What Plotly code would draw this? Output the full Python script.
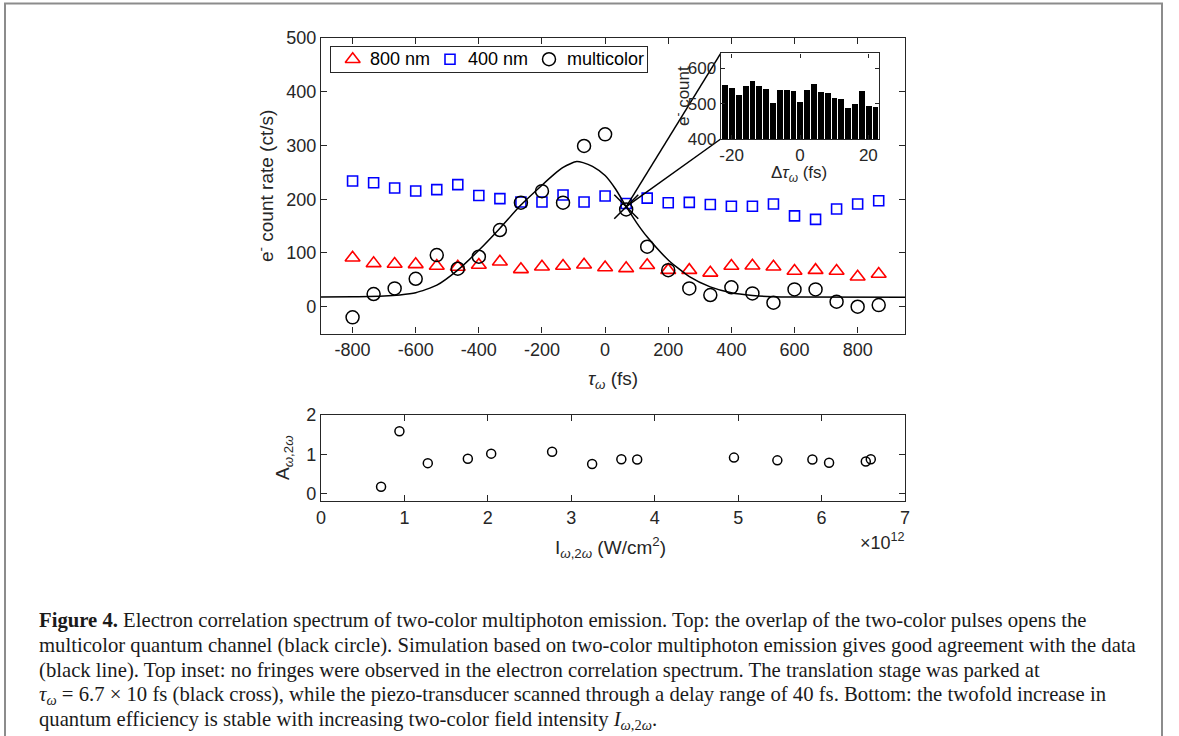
import plotly.graph_objects as go

W, H = 1179, 736

# ---------------- data ----------------
tau = [-800, -733.3, -666.7, -600, -533.3, -466.7, -400, -333.3, -266.7, -200,
       -133.3, -66.7, 0, 66.7, 133.3, 200, 266.7, 333.3, 400, 466.7, 533.3,
       600, 666.7, 733.3, 800, 866.7]
rate_800 = [91, 80.6, 79.4, 78.8, 75.7, 74, 77.5, 83.7, 69.5, 74.4, 75.7, 78, 73,
            71.3, 77, 68, 68, 63, 75.7, 76.3, 74.4, 66.4, 68, 66.4, 55.8, 60.8]
rate_400 = [233.8, 230.7, 220.8, 215.2, 217.7, 227, 207, 201, 194.7, 194.7, 207.8,
            194.7, 205.9, 192, 202, 193.5, 194, 190, 187, 187, 191, 169, 162.5,
            181.7, 191, 197]
rate_multi = [-19.8, 23.6, 34, 52, 96, 70.7, 93, 142.6, 193.5, 215, 193.5, 299,
              320.6, 181, 111.6, 68, 34, 21.7, 36, 24.8, 7.4, 32.2, 32.2, 9.3, 0, 3]

sim_t = [-900, -800, -700, -650, -600, -533, -467, -400, -333, -267, -200, -160,
         -133, -110, -90, -70, -40, 0, 33, 67, 100, 133, 200, 267, 333, 400, 467,
         533, 600, 950]
sim_v = [18, 18.6, 20, 22, 26, 40, 68, 105, 146, 189, 226, 247, 259, 266, 270,
         268, 261, 244, 219, 186, 156, 130, 87, 56, 37, 26, 21, 18.6, 18, 17.5]

cross_t = [67]
cross_v = [186]

inset_dt = [-22, -20, -18, -16, -14, -12, -10, -8, -6, -4, -2, 0, 2, 4, 6, 8, 10,
            12, 14, 16, 18, 20, 22]
inset_counts = [551, 545, 525, 549, 563, 549, 540, 501, 539, 537, 534, 504, 538,
                554, 532, 531, 515, 513, 486, 499, 536, 493, 490]

intensity = [0.72, 0.94, 1.28, 1.76, 2.04, 2.77, 3.25, 3.6, 3.79, 4.95, 5.47,
             5.89, 6.09, 6.53, 6.59]
amp = [0.18, 1.59, 0.78, 0.89, 1.02, 1.07, 0.76, 0.88, 0.87, 0.92, 0.85, 0.87,
       0.79, 0.82, 0.88]

series_names = ['800 nm', '400 nm', 'multicolor']

main_xticks = [-800, -600, -400, -200, 0, 200, 400, 600, 800]
main_yticks = [0, 100, 200, 300, 400, 500]
inset_xticks = [-20, 0, 20]
inset_yticks = [400, 500, 600]
bot_xticks = [0, 1, 2, 3, 4, 5, 6, 7]
bot_yticks = [0, 1, 2]

# ---------------- layout geometry (pixels) ----------------
def dx(a, b):
    return [a / W, b / W]

def dy(top, bottom):
    return [1 - bottom / H, 1 - top / H]

main_xdom = dx(321, 905)
main_ydom = dy(37.9, 333.6)
bot_xdom = dx(321, 905)
bot_ydom = dy(415, 501)
ins_xdom = dx(720.7, 879.3)
ins_ydom = dy(53.3, 139)
leg_xdom = dx(330.7, 646.7)
leg_ydom = dy(46.7, 71.7)

main_xr = [-900, 950]
main_yr = [-50, 500]

def paper_to_main(px, py):
    x = main_xr[0] + (px - main_xdom[0]) / (main_xdom[1] - main_xdom[0]) * (main_xr[1] - main_xr[0])
    y = main_yr[0] + (py - main_ydom[0]) / (main_ydom[1] - main_ydom[0]) * (main_yr[1] - main_yr[0])
    return x, y

c_tl = paper_to_main(ins_xdom[0], ins_ydom[1])
c_bl = paper_to_main(ins_xdom[0], ins_ydom[0])

TXT = '#262626'
FONT = 'Liberation Sans, Arial, sans-serif'

styles = [
    dict(symbol='triangle-up-open', size=13, color='#ff0000', line=dict(width=1.6, color='#ff0000')),
    dict(symbol='square-open', size=10, color='#0000ff', line=dict(width=1.6, color='#0000ff')),
    dict(symbol='circle-open', size=13, color='black', line=dict(width=1.5, color='black')),
]

fig = go.Figure()

for name, vals, st in zip(series_names, [rate_800, rate_400, rate_multi], styles):
    fig.add_trace(go.Scatter(x=tau, y=vals, mode='markers', name=name, marker=st,
                             showlegend=False, xaxis='x', yaxis='y'))

fig.add_trace(go.Scatter(x=sim_t, y=sim_v, mode='lines', showlegend=False,
                         line=dict(color='black', width=1.5, shape='spline', smoothing=0.6),
                         xaxis='x', yaxis='y'))
# connector lines from the cross to the inset corners
fig.add_trace(go.Scatter(x=[cross_t[0], c_tl[0], None, cross_t[0], c_bl[0]],
                         y=[cross_v[0], c_tl[1], None, cross_v[0], c_bl[1]],
                         mode='lines', showlegend=False, cliponaxis=False,
                         line=dict(color='black', width=1.5),
                         xaxis='x', yaxis='y'))
fig.add_trace(go.Scatter(x=cross_t, y=cross_v, mode='markers', showlegend=False,
                         marker=dict(symbol='x-thin', size=24, color='black',
                                     line=dict(width=1.5, color='black')),
                         xaxis='x', yaxis='y'))

fig.add_trace(go.Bar(x=inset_dt, y=inset_counts, width=1.7, showlegend=False,
                     marker=dict(color='black', line=dict(width=0)),
                     xaxis='x3', yaxis='y3'))

fig.add_trace(go.Scatter(x=intensity, y=amp, mode='markers', showlegend=False,
                         marker=dict(symbol='circle-open', size=9, color='black',
                                     line=dict(width=1.5, color='black')),
                         xaxis='x2', yaxis='y2'))

# legend (drawn as a small boxed axis, MATLAB style)
leg_sym_x = [22 / 316, 119.3 / 316, 218.3 / 316]
leg_txt_x = [369, 467, 566]
for sx, st in zip(leg_sym_x, styles):
    fig.add_trace(go.Scatter(x=[sx], y=[0.5], mode='markers', marker=st, showlegend=False,
                             hoverinfo='skip', xaxis='x4', yaxis='y4'))

def axis(dom, rng, ticks, anchor, size=18, tl=6):
    return dict(domain=dom, range=rng, tickvals=ticks, ticktext=[str(t) for t in ticks],
                ticks='inside', ticklen=tl, automargin=False,
                tickwidth=1.2, tickcolor=TXT, mirror='allticks', showline=True,
                linecolor=TXT, linewidth=1.4, showgrid=False, zeroline=False,
                tickfont=dict(family=FONT, size=size, color=TXT), anchor=anchor)

def plain(dom, anchor):
    return dict(domain=dom, range=[0, 1], anchor=anchor, showticklabels=False, ticks='',
                showgrid=False, zeroline=False, showline=True, mirror=True, automargin=False,
                linecolor=TXT, linewidth=1.2, fixedrange=True)

fig.update_layout(
    template='none',
    width=W, height=H, autosize=False,
    margin=dict(l=0, r=0, t=0, b=0, pad=0, autoexpand=False),
    paper_bgcolor='white', plot_bgcolor='white',
    xaxis=axis(main_xdom, main_xr, main_xticks, 'y'),
    yaxis=axis(main_ydom, main_yr, main_yticks, 'x'),
    xaxis2=axis(bot_xdom, [0, 7], bot_xticks, 'y2'),
    yaxis2=axis(bot_ydom, [-0.18, 2], bot_yticks, 'x2'),
    xaxis3=axis(ins_xdom, [-23.2, 23.2], inset_xticks, 'y3', size=17, tl=4),
    yaxis3=axis(ins_ydom, [400, 643], inset_yticks, 'x3', size=17, tl=4),
    xaxis4=plain(leg_xdom, 'y4'),
    yaxis4=plain(leg_ydom, 'x4'),
    bargap=0,
    showlegend=False,
)

ann = []
def txt(x, y, s, size=19, angle=0, xanchor='center', yanchor='middle', family=FONT, color=TXT):
    ann.append(dict(x=x / W, y=1 - y / H, xref='paper', yref='paper', text=s, showarrow=False,
                    textangle=angle, xanchor=xanchor, yanchor=yanchor, borderpad=0,
                    font=dict(family=family, size=size, color=color)))

for tx, name in zip(leg_txt_x, series_names):
    txt(tx, 59.5, name, size=18, xanchor='left', color='black')

txt(265, 186, 'e<sup>-</sup> count rate (ct/s)', angle=-90)
txt(613, 380, '<i>τ</i><sub><i>ω</i></sub> (fs)')
txt(682, 96, 'e<sup>-</sup> count', size=17, angle=-90)
txt(799, 174, 'Δ<i>τ</i><sub><i>ω</i></sub> (fs)', size=17)
txt(284, 458, 'A<sub><i>ω</i>,2<i>ω</i></sub>', angle=-90)
txt(610, 547, 'I<sub><i>ω</i>,2<i>ω</i></sub> (W/cm<sup>2</sup>)')
txt(906, 541, '×10<sup>12</sup>', size=18, xanchor='right')

SERIF = 'Liberation Serif, Times New Roman, serif'
caption = [
    '<b>Figure 4.</b> Electron correlation spectrum of two-color multiphoton emission. Top: the overlap of the two-color pulses opens the',
    'multicolor quantum channel (black circle). Simulation based on two-color multiphoton emission gives good agreement with the data',
    '(black line). Top inset: no fringes were observed in the electron correlation spectrum. The translation stage was parked at',
    '<i>τ</i><sub><i>ω</i></sub> = 6.7 × 10 fs (black cross), while the piezo-transducer scanned through a delay range of 40 fs. Bottom: the twofold increase in',
    'quantum efficiency is stable with increasing two-color field intensity <i>I</i><sub><i>ω</i>,2<i>ω</i></sub>.',
]
for i, line in enumerate(caption):
    txt(38, 620 + i * 25.2, line, size=20.7, xanchor='left', family=SERIF, color='#1a1a1a')

fig.update_layout(annotations=ann)

fig.add_shape(type='rect', xref='paper', yref='paper', x0=5 / W, x1=1162 / W,
              y0=-0.05, y1=1 - 3.5 / H, line=dict(color='#8c8c8c', width=2), layer='below')

css_js = (
    "var s=document.createElement('style');"
    "s.textContent='html,body{margin:0!important;padding:0!important;width:1179px;height:736px;overflow:hidden;}"
    "body>div{margin:0;padding:0;height:736px;width:1179px;overflow:hidden;line-height:0;font-size:0;}';"
    "document.head.appendChild(s);"
)

fig.write_html('out.html', config={'displayModeBar': False},
               post_script=css_js)
